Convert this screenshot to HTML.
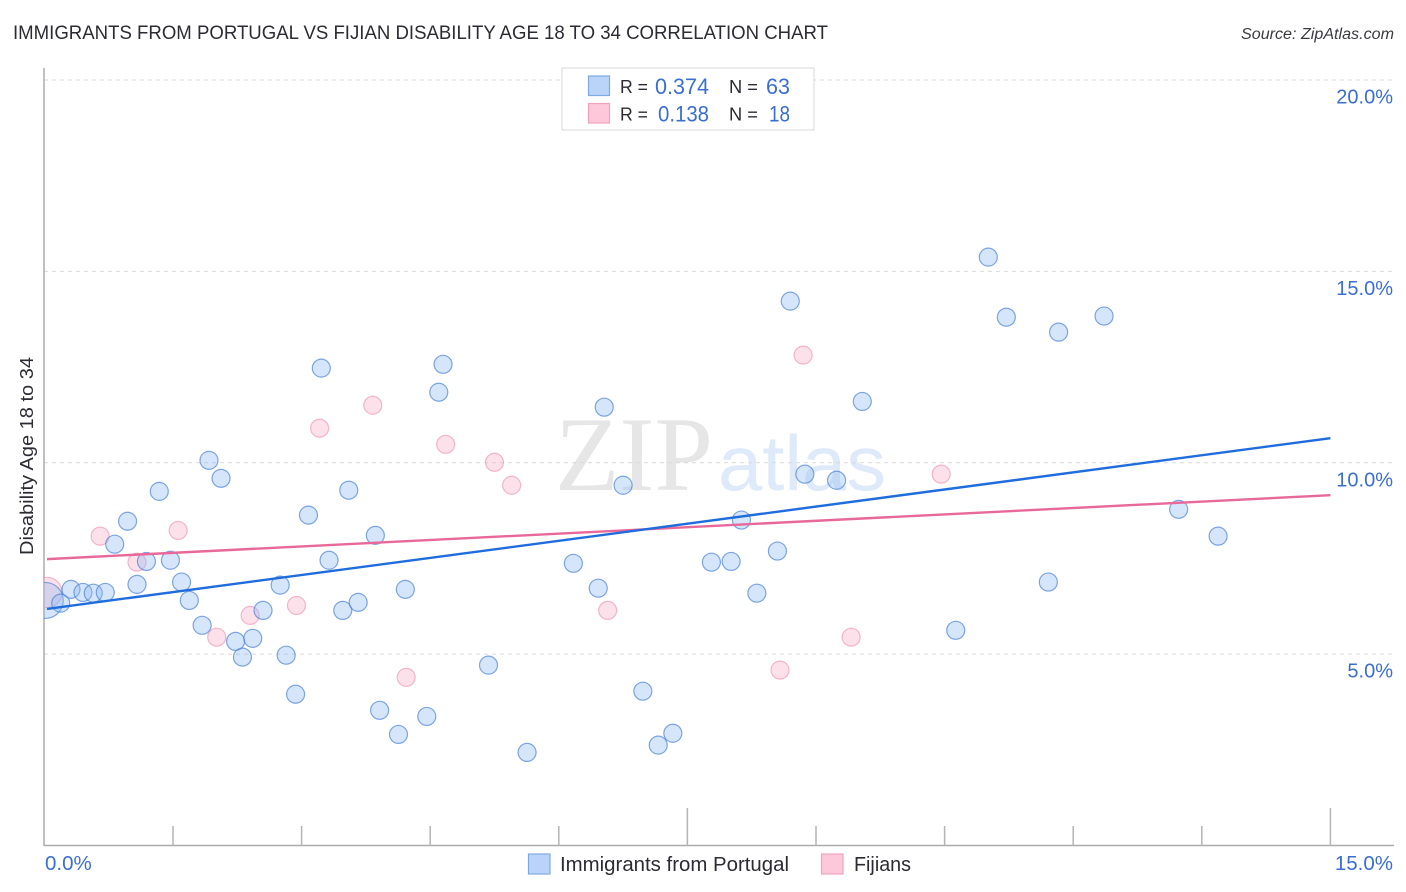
<!DOCTYPE html>
<html lang="en">
<head>
<meta charset="utf-8">
<title>Immigrants from Portugal vs Fijian Disability Age 18 to 34 Correlation Chart</title>
<style>
html,body{margin:0;padding:0;background:#fff;}
body{width:1406px;height:892px;overflow:hidden;}
svg{display:block;font-family:"Liberation Sans",sans-serif;}
</style>
</head>
<body>
<svg id="chart" width="1406" height="892" viewBox="0 0 1406 892" xmlns="http://www.w3.org/2000/svg">
  <defs>
    <clipPath id="plot-clip"><rect x="44" y="60" width="1350" height="786"/></clipPath>
  </defs>
  <text x="13" y="39" font-size="19.5" fill="#2b2b33" textLength="815" lengthAdjust="spacingAndGlyphs">IMMIGRANTS FROM PORTUGAL VS FIJIAN DISABILITY AGE 18 TO 34 CORRELATION CHART</text>
  <text x="1241" y="39" font-size="15.5" font-style="italic" fill="#3a3a42" textLength="153" lengthAdjust="spacingAndGlyphs">Source: ZipAtlas.com</text>

  <g>
    <text x="555" y="490" font-family="'Liberation Serif',serif" font-size="106" fill="#e6e6e6" textLength="158" lengthAdjust="spacingAndGlyphs">ZIP</text>
    <text x="718" y="490" font-size="78" fill="#dee9f9" textLength="168" lengthAdjust="spacingAndGlyphs">atlas</text>
  </g>

  <g id="grid"></g>
  <g id="axes"></g>
  <g id="pink-points" clip-path="url(#plot-clip)"></g>
  <g id="blue-points" clip-path="url(#plot-clip)"></g>
  <g id="trend-lines"></g>

  <text transform="translate(33 456) rotate(-90)" text-anchor="middle" font-size="18.5" fill="#2b2b33" textLength="198" lengthAdjust="spacingAndGlyphs">Disability Age 18 to 34</text>

  <g>
    <rect x="562" y="68" width="252" height="62" fill="#fff" stroke="#dedede" stroke-width="1.2"/>
    <rect x="588.5" y="76" width="21" height="19.5" fill="#b9d4f8" stroke="#7fa9e2" stroke-width="1.2"/>
    <rect x="588.5" y="103.5" width="21" height="19.5" fill="#fdc8d9" stroke="#efa3bd" stroke-width="1.2"/>
    <text x="620" y="93" font-size="18.5" fill="#2b2b33" textLength="28" lengthAdjust="spacingAndGlyphs">R =</text>
    <text x="655" y="94" font-size="22" fill="#3a6fd0" textLength="54" lengthAdjust="spacingAndGlyphs">0.374</text>
    <text x="729" y="93" font-size="18.5" fill="#2b2b33" textLength="29" lengthAdjust="spacingAndGlyphs">N =</text>
    <text x="766" y="94" font-size="22" fill="#3a6fd0" textLength="24" lengthAdjust="spacingAndGlyphs">63</text>
    <text x="620" y="120.5" font-size="18.5" fill="#2b2b33" textLength="28" lengthAdjust="spacingAndGlyphs">R =</text>
    <text x="658" y="121.5" font-size="22" fill="#3a6fd0" textLength="51" lengthAdjust="spacingAndGlyphs">0.138</text>
    <text x="729" y="120.5" font-size="18.5" fill="#2b2b33" textLength="29" lengthAdjust="spacingAndGlyphs">N =</text>
    <text x="769" y="121.5" font-size="22" fill="#3a6fd0" textLength="21" lengthAdjust="spacingAndGlyphs">18</text>
  </g>

  <g>
    <rect x="528.5" y="854" width="21.5" height="20" fill="#b9d4f8" stroke="#7fa9e2" stroke-width="1.2"/>
    <text x="560" y="871" font-size="20" fill="#2b2b33" textLength="229" lengthAdjust="spacingAndGlyphs">Immigrants from Portugal</text>
    <rect x="821.5" y="854" width="21.5" height="20" fill="#fdc8d9" stroke="#efa3bd" stroke-width="1.2"/>
    <text x="854" y="871" font-size="20" fill="#2b2b33" textLength="57" lengthAdjust="spacingAndGlyphs">Fijians</text>
  </g>
</svg>
<script>
const yTickValues = [5, 10, 15, 20];
const yTickLabels = ["5.0%", "10.0%", "15.0%", "20.0%"];
const xTickValues = [0, 1.5, 3, 4.5, 6, 7.5, 9, 10.5, 12, 13.5, 15];
const xMajorTicks = [7.5, 15];
const xEndValues = [0, 15];
const xEndLabels = ["0.0%", "15.0%"];

const blueX = [0.01, 11.01, 8.70, 11.22, 12.36, 11.83, 3.23, 4.65, 4.60, 6.53, 9.54, 1.92, 2.06, 1.34, 3.55, 6.75, 8.87, 9.24, 3.08, 0.97, 13.23, 8.13, 3.86, 13.69, 0.82, 1.47, 1.19, 3.32, 6.17, 7.78, 8.01, 8.55, 1.08, 1.60, 2.75, 6.46, 4.21, 11.71, 8.31, 0.31, 0.45, 0.57, 0.71, 1.69, 0.19, 2.55, 3.48, 3.66, 1.84, 10.63, 2.43, 2.23, 2.82, 2.31, 5.18, 2.93, 6.98, 3.91, 4.46, 4.13, 7.33, 7.16, 5.63];
const blueY = [6.41, 15.38, 14.23, 13.81, 13.84, 13.42, 12.48, 12.58, 11.85, 11.46, 11.61, 10.07, 9.60, 9.26, 9.29, 9.42, 9.71, 9.55, 8.64, 8.48, 8.79, 8.51, 8.11, 8.09, 7.88, 7.46, 7.43, 7.46, 7.38, 7.41, 7.43, 7.70, 6.83, 6.89, 6.81, 6.73, 6.70, 6.89, 6.60, 6.70, 6.62, 6.60, 6.62, 6.41, 6.34, 6.15, 6.15, 6.36, 5.76, 5.63, 5.42, 5.34, 4.98, 4.93, 4.72, 3.96, 4.04, 3.54, 3.38, 2.91, 2.94, 2.63, 2.44];

const pinkX = [0.03, 8.85, 3.83, 3.21, 4.68, 5.25, 5.45, 10.46, 1.56, 0.65, 1.08, 2.94, 2.40, 6.57, 2.01, 9.41, 8.58, 4.22];
const pinkY = [6.62, 12.82, 11.51, 10.91, 10.49, 10.02, 9.42, 9.71, 8.24, 8.09, 7.41, 6.28, 6.02, 6.15, 5.45, 5.45, 4.59, 4.40];

const blueTrendX = [0.03, 15];
const blueTrendY = [6.19, 10.65];
const pinkTrendX = [0.03, 15];
const pinkTrendY = [7.49, 9.16];

const blueLeadWeight = 4;
const pinkLeadWeight = 2.8;

const SVG_NS = "http://www.w3.org/2000/svg";
const xPlotLeft = 44, xPlotRight = 1330, yPlotBottom = 845.5, yPlotTop20 = 80;
const plotRightEdge = 1394;
const baseRadius = 9;

function xScale(v) {
  return xPlotLeft + 0.4 + (v / 15) * (xPlotRight - xPlotLeft);
}
function yScale(v) {
  return yPlotBottom + 0.3 - (v / 20) * (yPlotBottom - yPlotTop20);
}
function make(tag, attrs) {
  const el = document.createElementNS(SVG_NS, tag);
  Object.keys(attrs).forEach(function (k) { el.setAttribute(k, attrs[k]); });
  return el;
}

const gridGroup = document.getElementById("grid");
const axesGroup = document.getElementById("axes");

yTickValues.forEach(function (v, i) {
  const y = yScale(v) - 0.3;
  const line = make("line", { x1: xPlotLeft, x2: plotRightEdge, y1: y, y2: y, stroke: "#d9d9d9", "stroke-width": 1, "stroke-dasharray": "4 4" });
  
  
  gridGroup.appendChild(line);
  const label = make("text", { x: 1393, y: y + 23.5, "text-anchor": "end", "font-size": 20, fill: "#3a6fd0" });
  
  
  label.textContent = yTickLabels[i];
  axesGroup.appendChild(label);
});

const bottomAxis = make("line", { x1: xPlotLeft, x2: plotRightEdge, y1: 845.5, y2: 845.5, stroke: "#ababab", "stroke-width": 1.5 });


axesGroup.appendChild(bottomAxis);

const leftAxis = make("line", { x1: xPlotLeft, x2: xPlotLeft, y1: 68, y2: 846, stroke: "#ababab", "stroke-width": 1.5 });


axesGroup.appendChild(leftAxis);

xTickValues.forEach(function (v) {
  if (v === 0) return;
  const x = xScale(v);
  const isMajor = xMajorTicks.indexOf(v) !== -1;
  const tick = make("line", { x1: x, x2: x, y1: isMajor ? 808 : 826, y2: 845.5, stroke: "#b4b4b4", "stroke-width": 1.5 });
  
  
  axesGroup.appendChild(tick);
});

xEndValues.forEach(function (v, i) {
  const isFirst = i === 0;
  const label = make("text", { x: isFirst ? xScale(v) + 0.6 : 1393, y: 870, "text-anchor": isFirst ? "start" : "end", "font-size": 20.5, fill: "#3a6fd0" });
  
  
  label.textContent = xEndLabels[i];
  axesGroup.appendChild(label);
});

const pinkGroup = document.getElementById("pink-points");
pinkX.forEach(function (v, i) {
  const r = i === 0 ? baseRadius * Math.sqrt(pinkLeadWeight) : baseRadius;
  const c = make("circle", { cx: xScale(v), cy: yScale(pinkY[i]), r: r, fill: "rgba(250,175,200,0.38)", stroke: "rgba(236,140,172,0.6)", "stroke-width": 1.2 });
  
  
  pinkGroup.appendChild(c);
});

const blueGroup = document.getElementById("blue-points");
blueX.forEach(function (v, i) {
  const r = i === 0 ? baseRadius * Math.sqrt(blueLeadWeight) : baseRadius;
  const c = make("circle", { cx: xScale(v), cy: yScale(blueY[i]), r: r, fill: "rgba(140,185,240,0.36)", stroke: "rgba(75,130,215,0.7)", "stroke-width": 1.2 });
  
  
  blueGroup.appendChild(c);
});

const trendGroup = document.getElementById("trend-lines");
const pinkTrend = make("line", { x1: xScale(pinkTrendX[0]), y1: yScale(pinkTrendY[0]), x2: xScale(pinkTrendX[1]), y2: yScale(pinkTrendY[1]), stroke: "#e8689a", "stroke-width": 2.4 });


trendGroup.appendChild(pinkTrend);
const blueTrend = make("line", { x1: xScale(blueTrendX[0]), y1: yScale(blueTrendY[0]), x2: xScale(blueTrendX[1]), y2: yScale(blueTrendY[1]), stroke: "#1f6cdc", "stroke-width": 2.4 });


trendGroup.appendChild(blueTrend);
</script>
</body>
</html>
